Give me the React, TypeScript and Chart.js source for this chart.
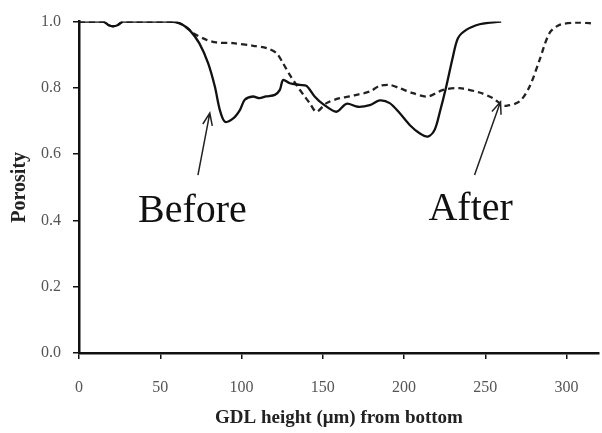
import React, { useEffect, useRef } from "react";
import { Chart, registerables } from "chart.js";

Chart.register(...registerables);

const beforeX = [0, 5, 15, 18, 21, 24, 27, 35, 45, 55, 60, 64, 68, 74, 79.5, 83.6, 86.7, 89.8, 94.9, 99, 102, 107, 111, 115, 120.5, 123.6, 125.6, 129.7, 135.9, 140, 145, 150.2, 158.4, 164.6, 171.7, 178.9, 185, 191.2, 197.3, 203.5, 209.6, 214.7, 218.8, 221.9, 226, 230.1, 233.2, 238.3, 246.5, 253, 259.8];
const beforeY = [1, 1, 1, 0.99, 0.986, 0.99, 1, 1, 1, 1, 0.998, 0.99, 0.975, 0.935, 0.874, 0.804, 0.733, 0.698, 0.708, 0.733, 0.764, 0.774, 0.769, 0.774, 0.779, 0.794, 0.824, 0.814, 0.809, 0.806, 0.774, 0.751, 0.728, 0.752, 0.743, 0.748, 0.762, 0.754, 0.724, 0.688, 0.663, 0.653, 0.673, 0.724, 0.804, 0.894, 0.95, 0.975, 0.992, 0.997, 1.0];

const afterX = [0, 5, 15, 18, 21, 24, 27, 35, 45, 55, 60, 64, 70.3, 78.5, 84.6, 94.9, 107.2, 115.4, 121.5, 125.6, 129.7, 133.8, 138, 142, 146.1, 152.3, 160.4, 166.6, 170.7, 178.9, 185, 191.2, 197.3, 205.5, 214.7, 224, 234.2, 246.5, 254.7, 258.8, 262.9, 271.1, 277.3, 283.4, 289.5, 295.7, 306, 315];
const afterY = [1, 1, 1, 0.99, 0.986, 0.99, 1, 1, 1, 1, 0.998, 0.99, 0.965, 0.945, 0.937, 0.935, 0.927, 0.92, 0.905, 0.874, 0.839, 0.809, 0.78, 0.754, 0.728, 0.754, 0.769, 0.774, 0.779, 0.789, 0.806, 0.809, 0.799, 0.784, 0.774, 0.794, 0.799, 0.786, 0.769, 0.754, 0.746, 0.759, 0.804, 0.884, 0.965, 0.99, 0.997, 0.995];

const xTicks = [0, 50, 100, 150, 200, 250, 300];
const yTicks = [0, 0.2, 0.4, 0.6, 0.8, 1.0];

const labels = [
  { text: "Before", x: 69.8, y: 0.395, fromX: 73.2, fromY: 0.537, toX: 80.5, toY: 0.724 },
  { text: "After", x: 241, y: 0.401, fromX: 243.4, fromY: 0.537, toX: 259.4, toY: 0.758 },
];

const xTitle = "GDL height (μm) from bottom";
const yTitle = "Porosity";

const annotationPlugin = {
  id: "annot",
  afterDatasetsDraw(chart: any) {
    const { ctx } = chart;
    const xs = chart.scales.x;
    const ys = chart.scales.y;
    ctx.save();
    for (const l of labels) {
      ctx.fillStyle = "#111";
      ctx.font = "40px 'Liberation Serif'";
      ctx.textAlign = "center";
      ctx.textBaseline = "alphabetic";
      ctx.fillText(l.text, xs.getPixelForValue(l.x), ys.getPixelForValue(l.y));
      const x1 = xs.getPixelForValue(l.fromX);
      const y1 = ys.getPixelForValue(l.fromY);
      const x2 = xs.getPixelForValue(l.toX);
      const y2 = ys.getPixelForValue(l.toY);
      ctx.strokeStyle = "#222";
      ctx.lineWidth = 1.5;
      ctx.beginPath();
      ctx.moveTo(x1, y1);
      ctx.lineTo(x2, y2);
      const ang = Math.atan2(y2 - y1, x2 - x1);
      const hl = 13;
      const spread = 0.38;
      ctx.moveTo(x2 - hl * Math.cos(ang - spread), y2 - hl * Math.sin(ang - spread));
      ctx.lineTo(x2, y2);
      ctx.lineTo(x2 - hl * Math.cos(ang + spread), y2 - hl * Math.sin(ang + spread));
      ctx.stroke();
    }
    ctx.restore();
  },
};

export default function App() {
  const ref = useRef<HTMLCanvasElement>(null);
  useEffect(() => {
    if (!ref.current) return;
    const tickFont = { family: "'Liberation Serif'", size: 16 };
    const chart = new Chart(ref.current, {
      type: "line",
      data: {
        datasets: [
          {
            label: "Before",
            data: beforeX.map((x, i) => ({ x, y: beforeY[i] })),
            borderColor: "#111",
            borderWidth: 2.3,
            pointRadius: 0,
            tension: 0.3,
            fill: false,
          },
          {
            label: "After",
            data: afterX.map((x, i) => ({ x, y: afterY[i] })),
            borderColor: "#222",
            borderWidth: 2.3,
            borderDash: [6, 4],
            pointRadius: 0,
            tension: 0.3,
            fill: false,
          },
        ],
      },
      options: {
        responsive: false,
        animation: false,
        layout: { padding: { top: 21.5, right: 3, left: 0, bottom: 0 } },
        plugins: { legend: { display: false }, tooltip: { enabled: false } },
        scales: {
          x: {
            type: "linear",
            min: 0,
            max: 320,
            afterBuildTicks: (s: any) => {
              s.ticks = xTicks.map((v) => ({ value: v }));
            },
            afterFit: (s: any) => {
              s.height = 80;
            },
            ticks: { font: tickFont, color: "#555", padding: 19, maxRotation: 0 },
            grid: { drawOnChartArea: false, drawTicks: true, tickLength: 6, color: "#111", lineWidth: 1.5 },
            border: { color: "#111", width: 2.5 },
            title: {
              display: true,
              text: xTitle,
              font: { family: "'Liberation Serif'", size: 19, weight: "bold" },
              color: "#222",
              padding: { top: 0, bottom: 3.5 },
            },
          },
          y: {
            min: 0,
            max: 1,
            afterBuildTicks: (s: any) => {
              s.ticks = yTicks.map((v) => ({ value: v }));
            },
            afterFit: (s: any) => {
              s.width = 79;
            },
            ticks: { font: tickFont, color: "#555", padding: 12, callback: (v: any) => Number(v).toFixed(1) },
            grid: { drawOnChartArea: false, drawTicks: true, tickLength: 6, color: "#111", lineWidth: 1.5 },
            border: { color: "#111", width: 2.5 },
            title: {
              display: true,
              text: yTitle,
              font: { family: "'Liberation Serif'", size: 20, weight: "bold" },
              color: "#222",
              padding: { top: 8, bottom: 0 },
            },
          },
        },
      },
      plugins: [annotationPlugin],
    } as any);
    return () => chart.destroy();
  }, []);
  return (
    <div style={{ position: "absolute", left: 0, top: 0, width: 602, height: 433, background: "#fff" }}>
      <canvas ref={ref} width={602} height={433} />
    </div>
  );
}
